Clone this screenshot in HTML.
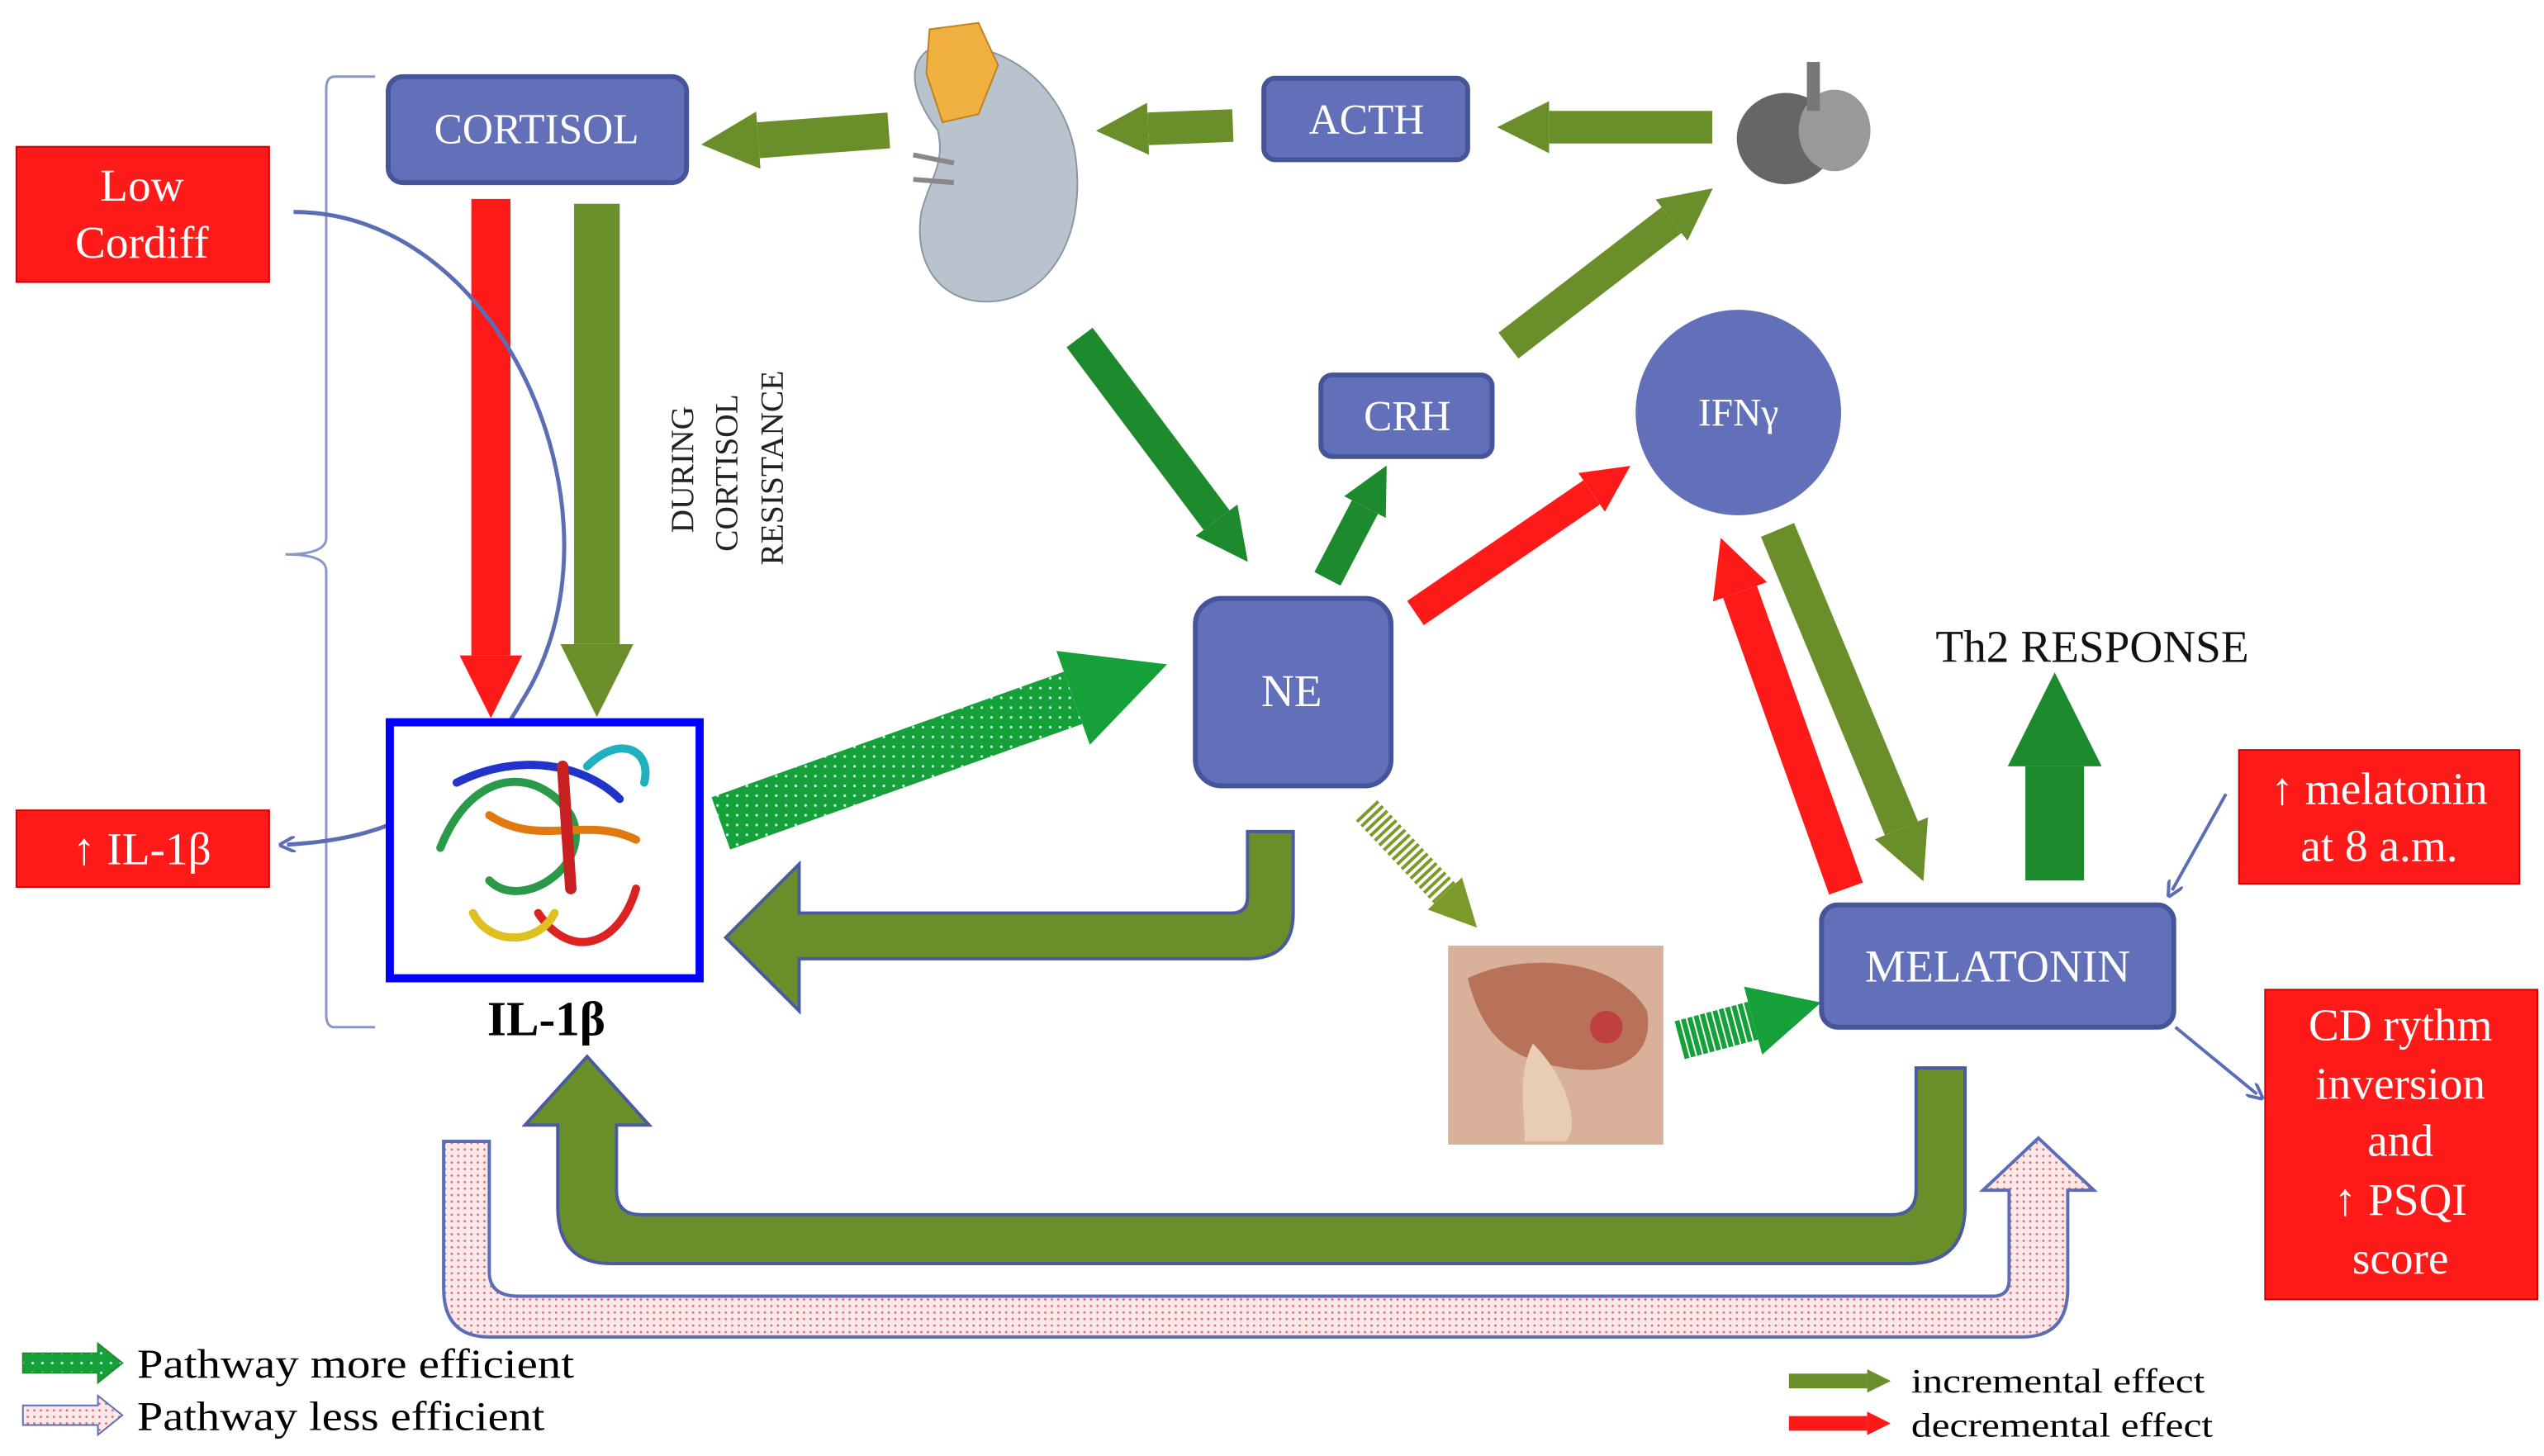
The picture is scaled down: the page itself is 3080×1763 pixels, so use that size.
<!DOCTYPE html>
<html><head><meta charset="utf-8"><style>
html,body{margin:0;padding:0;background:#fff}
svg{display:block}
text{font-family:"Liberation Serif",serif}
</style></head><body>
<svg width="3080" height="1763" viewBox="0 0 1560 893" xmlns="http://www.w3.org/2000/svg">
<defs>
<marker id="hg" viewBox="0 0 10 10" refX="0" refY="5" markerWidth="1.6" markerHeight="2" orient="auto"><path d="M0,0 L10,5 L0,10z" fill="#6a8f2a"/></marker>
<marker id="hd" viewBox="0 0 10 10" refX="0" refY="5" markerWidth="1.6" markerHeight="2" orient="auto"><path d="M0,0 L10,5 L0,10z" fill="#1e8a2e"/></marker>
<marker id="hr" viewBox="0 0 10 10" refX="0" refY="5" markerWidth="1.6" markerHeight="2" orient="auto"><path d="M0,0 L10,5 L0,10z" fill="#ff1a1a"/></marker>
<marker id="hdot" viewBox="0 0 10 10" refX="0" refY="5" markerWidth="1.8" markerHeight="2" orient="auto"><path d="M0,0 L10,5 L0,10z" fill="#16a03a"/></marker>
<marker id="hol" viewBox="0 0 10 10" refX="0" refY="5" markerWidth="1.6" markerHeight="2" orient="auto"><path d="M0,0 L10,5 L0,10z" fill="#7c9a2a"/></marker>
<marker id="hb" viewBox="0 0 10 10" refX="5" refY="5" markerWidth="10" markerHeight="10" markerUnits="userSpaceOnUse" orient="auto"><path d="M0,0 L10,5 L0,10" fill="none" stroke="#5b6eb5" stroke-width="2"/></marker>
<pattern id="dots" width="6" height="6" patternUnits="userSpaceOnUse"><rect width="6" height="6" fill="#16a03a"/><circle cx="2" cy="2" r="0.8" fill="#cfe"/></pattern>
<pattern id="pdots" width="4" height="4" patternUnits="userSpaceOnUse"><rect width="4" height="4" fill="#fbe8ea"/><circle cx="1" cy="1" r="0.7" fill="#d66"/></pattern>
</defs>

<path d="M230,47 L205,47 Q200,47 200,55 L200,330 Q200,340 175,340 Q200,340 200,350 L200,622 Q200,630 205,630 L230,630" fill="none" stroke="#8a96c8" stroke-width="1.5"/>

<path d="M272,700 L272,790 Q272,820 300,820 L1240,820 Q1268,820 1268,790 L1268,730 L1284,730 L1250,698 L1216,730 L1232,730 L1232,785 Q1232,795 1222,795 L318,795 Q300,795 300,780 L300,700 Z" fill="url(#pdots)" stroke="#5b6eb5" stroke-width="2"/>

<path d="M1175,655 L1205,655 L1205,740 Q1205,775 1170,775 L375,775 Q342,775 342,740 L342,690 L322,690 L360,648 L398,690 L378,690 L378,730 Q378,745 393,745 L1160,745 Q1175,745 1175,730 Z" fill="#6a8f2a" stroke="#4a5aa0" stroke-width="2"/>

<path d="M765,510 L793,510 L793,560 Q793,588 765,588 L490,588 L490,620 L445,575 L490,530 L490,560 L755,560 Q765,560 765,550 Z" fill="#6a8f2a" stroke="#4a5aa0" stroke-width="2"/>

<line x1="301" y1="122" x2="301" y2="402" stroke="#ff1a1a" stroke-width="24" marker-end="url(#hr)"/>
<line x1="366" y1="125" x2="366" y2="395" stroke="#6a8f2a" stroke-width="28" marker-end="url(#hg)"/>
<line x1="545" y1="80" x2="465" y2="86" stroke="#6a8f2a" stroke-width="22" marker-end="url(#hg)"/>
<line x1="756" y1="77" x2="704" y2="79" stroke="#6a8f2a" stroke-width="20" marker-end="url(#hg)"/>
<line x1="1050" y1="78" x2="950" y2="78" stroke="#6a8f2a" stroke-width="20" marker-end="url(#hg)"/>
<line x1="662" y1="207" x2="746" y2="319" stroke="#1e8a2e" stroke-width="20" marker-end="url(#hd)"/>
<line x1="814" y1="355" x2="837" y2="311" stroke="#1e8a2e" stroke-width="18" marker-end="url(#hd)"/>
<line x1="925" y1="212" x2="1025" y2="135" stroke="#6a8f2a" stroke-width="20" marker-end="url(#hg)"/>
<line x1="868" y1="376" x2="976" y2="302" stroke="#ff1a1a" stroke-width="18" marker-end="url(#hr)"/>
<line x1="1132" y1="545" x2="1067" y2="363" stroke="#ff1a1a" stroke-width="22" marker-end="url(#hr)"/>
<line x1="1090" y1="325" x2="1166" y2="508" stroke="#6a8f2a" stroke-width="22" marker-end="url(#hg)"/>
<line x1="1260" y1="540" x2="1260" y2="470" stroke="#1e8a2e" stroke-width="36" marker-end="url(#hd)"/>
<line x1="442" y1="505" x2="658" y2="428" stroke="url(#dots)" stroke-width="34" marker-end="url(#hdot)"/>
<line x1="838" y1="497" x2="886" y2="548" stroke="#7c9a2a" stroke-width="18" stroke-dasharray="2 2" marker-end="url(#hol)"/>
<line x1="1030" y1="638" x2="1075" y2="626" stroke="#16a03a" stroke-width="24" stroke-dasharray="3 1" marker-end="url(#hdot)"/>

<path d="M180,130 C310,130 390,320 320,430 C280,500 230,515 176,518" fill="none" stroke="#5b6eb5" stroke-width="2.5" marker-end="url(#hb)"/>
<line x1="1365" y1="487" x2="1332" y2="546" stroke="#5b6eb5" stroke-width="2" marker-end="url(#hb)"/>
<line x1="1334" y1="630" x2="1384" y2="671" stroke="#5b6eb5" stroke-width="2" marker-end="url(#hb)"/>

<g fill="#6170b8" stroke="#46549a" stroke-width="3">
<rect x="238" y="47" width="183" height="65" rx="9"/>
<rect x="775" y="48" width="125" height="50" rx="7"/>
<rect x="810" y="230" width="105" height="50" rx="7"/>
<rect x="733" y="367" width="120" height="115" rx="16"/>
<rect x="1117" y="555" width="216" height="75" rx="10"/>
<circle cx="1066" cy="253" r="63" stroke="none"/>
</g>
<g fill="#fff" font-size="26" text-anchor="middle">
<text x="329" y="88">CORTISOL</text>
<text x="838" y="82">ACTH</text>
<text x="863" y="264">CRH</text>
<text x="792" y="433" font-size="28">NE</text>
<text x="1225" y="602" font-size="28">MELATONIN</text>
<text x="1066" y="261" font-size="24">IFNγ</text>
</g>

<g fill="#ff1a1a" stroke="#c00" stroke-width="1">
<rect x="10" y="90" width="155" height="83"/>
<rect x="10" y="497" width="155" height="47"/>
<rect x="1373" y="460" width="172" height="82"/>
<rect x="1389" y="607" width="167" height="190"/>
</g>
<g fill="#fff" font-size="28" text-anchor="middle">
<text x="87" y="123">Low</text>
<text x="87" y="158">Cordiff</text>
<text x="87" y="530">↑ IL-1β</text>
<text x="1459" y="493">↑ melatonin</text>
<text x="1459" y="528">at 8 a.m.</text>
<text x="1472" y="638">CD rythm</text>
<text x="1472" y="674">inversion</text>
<text x="1472" y="709">and</text>
<text x="1472" y="745">↑ PSQI</text>
<text x="1472" y="781">score</text>
</g>

<rect x="239" y="443" width="190" height="157" fill="#fff" stroke="#0000ff" stroke-width="5"/>
<g fill="none" stroke-width="5" stroke-linecap="round">
<path d="M270,520 C290,470 330,470 350,500 C365,530 320,560 300,540" stroke="#2a9a4a"/>
<path d="M280,480 C320,460 360,470 380,490" stroke="#2233cc"/>
<path d="M300,500 C330,520 360,500 390,515" stroke="#e07a10"/>
<path d="M330,560 C350,590 380,580 390,545" stroke="#d22"/>
<path d="M345,470 L350,545" stroke="#c82020" stroke-width="7"/>
<path d="M360,470 C380,450 400,460 395,480" stroke="#20b0c0"/>
<path d="M290,560 C300,580 330,580 340,560" stroke="#e0c020"/>
</g>
<text x="335" y="635" font-size="30" font-weight="bold" text-anchor="middle">IL-1β</text>

<g font-size="20" fill="#222" text-anchor="middle">
<text transform="translate(425,288) rotate(-90)">DURING</text>
<text transform="translate(452,290) rotate(-90)">CORTISOL</text>
<text transform="translate(480,287) rotate(-90)">RESISTANCE</text>
</g>
<text x="1283" y="406" font-size="28" text-anchor="middle" fill="#111">Th2 RESPONSE</text>

<path d="M570,30 C610,20 655,50 660,100 C665,150 640,185 605,185 C575,185 560,160 565,130 C570,110 580,100 575,80 C560,60 555,40 570,30Z" fill="#b9c3cd" stroke="#8a96a4"/>
<path d="M570,18 L600,14 L612,40 L600,70 L578,75 L568,45Z" fill="#f0b040" stroke="#c08020"/>
<path d="M560,95 L585,100 M560,110 L585,112" stroke="#888" stroke-width="3"/>
<ellipse cx="1095" cy="85" rx="30" ry="28" fill="#666"/>
<ellipse cx="1125" cy="80" rx="22" ry="25" fill="#999"/>
<rect x="1108" y="38" width="8" height="30" fill="#777"/>
<rect x="888" y="580" width="132" height="122" fill="#d9b09a"/>
<path d="M900,600 C930,585 990,585 1010,620 C1015,650 990,660 960,655 C930,650 910,640 900,600Z" fill="#b8725a"/>
<path d="M940,640 C960,660 970,690 960,700 L935,700 C935,680 930,660 940,640Z" fill="#e8cdb5"/>
<circle cx="985" cy="630" r="10" fill="#c04040"/>

<path d="M14,830 L60,830 L60,824 L75,836 L60,848 L60,842 L14,842Z" fill="url(#dots)" stroke="#1e8a2e"/>
<path d="M14,862 L60,862 L60,856 L75,868 L60,880 L60,874 L14,874Z" fill="url(#pdots)" stroke="#5b6eb5"/>
<text x="84" y="845" font-size="25" textLength="268" lengthAdjust="spacingAndGlyphs">Pathway more efficient</text>
<text x="84" y="877" font-size="25" textLength="250" lengthAdjust="spacingAndGlyphs">Pathway less efficient</text>
<line x1="1097" y1="847" x2="1145" y2="847" stroke="#6a8f2a" stroke-width="9" marker-end="url(#hg)"/>
<line x1="1097" y1="873" x2="1145" y2="873" stroke="#ff1a1a" stroke-width="9" marker-end="url(#hr)"/>
<text x="1172" y="854" font-size="21" textLength="180" lengthAdjust="spacingAndGlyphs">incremental effect</text>
<text x="1172" y="881" font-size="21" textLength="185" lengthAdjust="spacingAndGlyphs">decremental effect</text>
</svg>
</body></html>
